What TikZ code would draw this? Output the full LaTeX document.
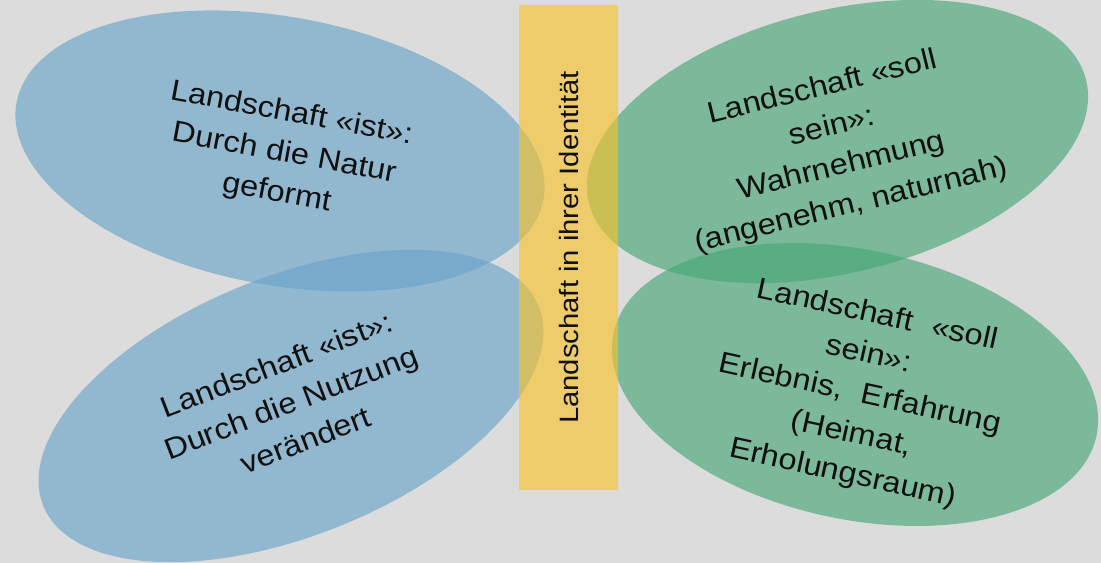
\documentclass[tikz,border=0pt]{standalone}
\usepackage{fontspec}
\usetikzlibrary{shapes.geometric}
\newfontfamily\labfont{Liberation Sans}[FakeStretch=1.1]
\definecolor{bggray}{RGB}{220,220,220}
\definecolor{blobblue}{RGB}{104,163,201}
\definecolor{blobgreen}{RGB}{68,166,117}
\definecolor{baryellow}{RGB}{250,195,40}
\definecolor{txt}{RGB}{15,15,15}
\begin{document}
\begin{tikzpicture}[x=0.025cm,y=0.025cm,
  blob/.style={shape=ellipse,inner sep=0pt,draw=none,fill opacity=0.63},
  bluebl/.style={blob,fill=blobblue},
  greenbl/.style={blob,fill=blobgreen},
  bartxt/.style={text=txt,font=\labfont\fontsize{18.9pt}{24pt}\selectfont,inner sep=0pt},
  blobtxt/.style={text=txt,align=center,font=\labfont\fontsize{21pt}{28.8pt}\selectfont,inner sep=0pt}]
\fill[bggray] (0,0) rectangle (1101,563);
\useasboundingbox (0,0) rectangle (1101,563);
% ellipses
\node[bluebl,minimum width=13.39cm,minimum height=6.705cm,rotate=-10.4] (tl) at (280,412) {};
\node[bluebl,minimum width=13.35cm,minimum height=6.48cm,rotate=21.9] (bl) at (291,157) {};
\node[greenbl,minimum width=12.8cm,minimum height=6.565cm,rotate=13.9] (tr) at (837.5,421.5) {};
\node[greenbl,minimum width=12.34cm,minimum height=6.735cm,rotate=-12] (br) at (855,178.5) {};
% central bar
\node[shape=rectangle,inner sep=0pt,draw=none,fill=baryellow,fill opacity=0.62,
      minimum width=2.475cm,minimum height=12.125cm] (bar) at (568.5,315.5) {};
\node[bartxt,rotate=90] (bartext) at (bar.center) {Landschaft in ihrer Identität};
% texts
\node[blobtxt,rotate=-10.5] (tltext) at (284,409) {Landschaft «ist»:\\Durch die Natur\\geformt};
\node[blobtxt,rotate=21] (bltext) at (291,161) {Landschaft «ist»:\\Durch die Nutzung\\verändert};
\node[blobtxt,rotate=13.8] (trtext) at (837,416) {Landschaft «soll\\sein»:\\Wahrnehmung\\(angenehm, naturnah)};
\node[blobtxt,rotate=-12.3] (brtext) at (860,168) {Landschaft\hspace{0.35em} «soll\\sein»:\\Erlebnis,\hspace{0.35em} Erfahrung\\(Heimat,\\Erholungsraum)};
\end{tikzpicture}
\end{document}
